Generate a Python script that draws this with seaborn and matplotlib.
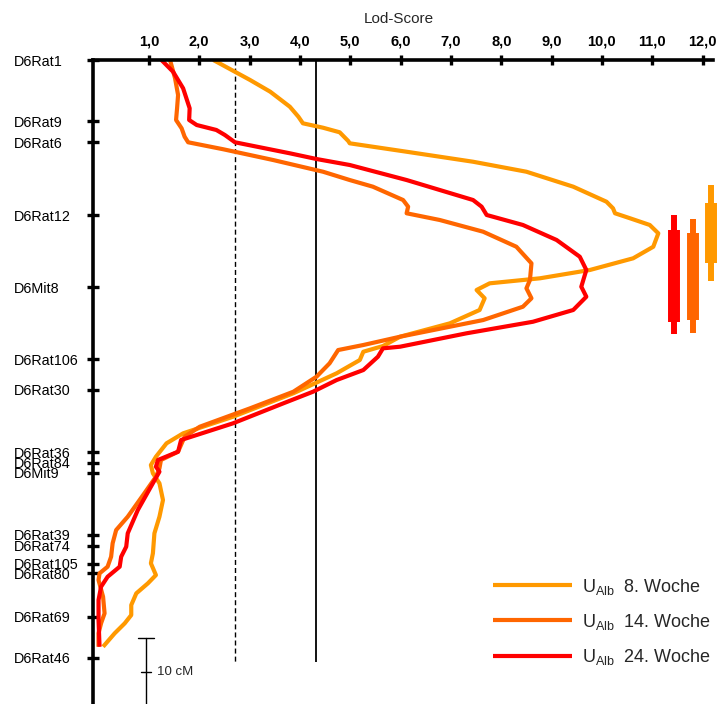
import matplotlib
matplotlib.use("Agg")
import matplotlib.pyplot as plt
import pandas as pd
import seaborn as sns

# Genetic map of chromosome 6: marker names and positions (cM from D6Rat1)
markers = ["D6Rat1", "D6Rat9", "D6Rat6", "D6Rat12", "D6Mit8", "D6Rat106", "D6Rat30",
           "D6Rat36", "D6Rat84", "D6Mit9", "D6Rat39", "D6Rat74", "D6Rat105", "D6Rat80",
           "D6Rat69", "D6Rat46"]
marker_cm = [0.0, 9.0, 12.1, 22.8, 33.4, 44.0, 48.5, 57.7, 59.2, 60.7, 69.8, 71.4,
             74.1, 75.5, 81.9, 87.9]

lod_ticks = [1, 2, 3, 4, 5, 6, 7, 8, 9, 10, 11, 12]
lod_tick_labels = ["1,0", "2,0", "3,0", "4,0", "5,0", "6,0", "7,0", "8,0", "9,0",
                   "10,0", "11,0", "12,0"]

series_labels = [r"U$_{\mathrm{Alb}}$  8. Woche",
                 r"U$_{\mathrm{Alb}}$  14. Woche",
                 r"U$_{\mathrm{Alb}}$  24. Woche"]
series_colors = ["#FF9900", "#FF6600", "#FF0000"]

# LOD profile, week 8
pos_w8 = [0.0, 2.94, 4.66, 6.87, 8.34, 9.31, 9.96, 10.63, 11.91, 12.25, 13.49, 14.96,
          16.43, 18.63, 20.84, 21.81, 22.54, 23.28, 24.26, 25.49, 27.46, 29.16, 30.88,
          32.10, 32.84, 33.82, 35.04, 36.76, 38.72, 40.69, 42.06, 42.90, 44.12, 46.07,
          49.01, 52.46, 54.90, 56.37, 58.34, 59.56, 60.78, 62.25, 64.71, 67.16, 69.60,
          72.54, 74.01, 75.74, 76.96, 78.43, 80.15, 81.62, 82.84, 84.31, 86.28]
lod_w8 = [2.28, 3.01, 3.41, 3.80, 3.97, 4.06, 4.46, 4.79, 4.96, 4.99, 6.12, 7.44,
          8.50, 9.43, 10.09, 10.22, 10.26, 10.56, 10.95, 11.12, 11.02, 10.62, 9.76,
          8.77, 7.77, 7.51, 7.67, 7.57, 6.98, 5.99, 5.65, 5.26, 5.19, 4.73,
          3.87, 2.67, 1.68, 1.35, 1.14, 1.04, 1.08, 1.21, 1.28, 1.21, 1.11,
          1.08, 1.04, 1.14, 0.98, 0.75, 0.65, 0.65, 0.52, 0.32, 0.09]

# LOD profile, week 14
pos_w14 = [0.0, 2.69, 5.15, 7.10, 8.82, 10.04, 11.28, 12.10, 13.13, 14.71, 16.43,
           17.65, 18.63, 20.59, 21.57, 22.54, 23.53, 25.25, 27.46, 29.90, 32.35, 33.57,
           35.04, 36.28, 38.24, 40.69, 41.91, 42.65, 44.60, 46.57, 48.78, 51.22, 53.93,
           55.40, 57.60, 58.82, 60.04, 61.28, 63.72, 67.16, 69.12, 71.07, 73.04, 74.51,
           75.49, 76.47, 78.93, 81.37, 82.84, 84.31, 86.28]
lod_w14 = [1.42, 1.52, 1.58, 1.56, 1.54, 1.65, 1.71, 1.78, 2.48, 3.47, 4.46,
           4.99, 5.45, 6.05, 6.15, 6.12, 6.78, 7.64, 8.30, 8.60, 8.57, 8.50,
           8.60, 8.43, 7.64, 5.99, 5.26, 4.76, 4.59, 4.33, 3.87, 3.01, 2.01,
           1.71, 1.58, 1.24, 1.21, 1.14, 0.91, 0.58, 0.35, 0.28, 0.25, 0.18,
           0.02, 0.00, 0.09, 0.12, 0.05, 0.00, 0.00]

# LOD profile, week 24
pos_w24 = [0.0, 1.72, 4.16, 7.10, 8.82, 9.56, 10.29, 11.03, 12.10, 13.72, 14.56, 15.44,
           17.65, 20.59, 21.57, 22.79, 24.26, 26.47, 28.93, 30.88, 33.34, 34.81, 36.76,
           38.49, 40.19, 42.16, 42.40, 43.63, 45.59, 47.06, 48.78, 50.49, 53.43, 55.88,
           57.60, 58.82, 59.81, 60.54, 62.75, 66.18, 69.60, 71.57, 73.04, 74.51, 75.99,
           77.46, 79.41, 82.35, 86.28]
lod_w24 = [1.25, 1.48, 1.68, 1.81, 1.80, 1.95, 2.34, 2.51, 2.71, 3.80, 4.33, 4.99,
           6.12, 7.44, 7.61, 7.71, 8.43, 9.10, 9.56, 9.69, 9.59, 9.69, 9.43,
           8.63, 7.31, 5.99, 5.65, 5.55, 5.26, 4.73, 4.26, 3.67, 2.67, 1.64,
           1.58, 1.18, 1.14, 1.21, 1.04, 0.78, 0.58, 0.55, 0.45, 0.42, 0.18,
           0.05, 0.00, 0.00, 0.02]

# Suggestive (dashed) and significant (solid) LOD thresholds
threshold_suggestive = 2.71
threshold_significant = 4.31
threshold_end_cm = 88.5

# Support intervals of the QTL (cM): outer and inner range per week (8, 14, 24)
ci_outer = [(18.4, 32.5), (23.4, 40.2), (22.8, 40.3)]
ci_inner = [(21.1, 29.8), (25.4, 38.3), (25.0, 38.5)]
ci_column_x = [12.17, 11.81, 11.43]

# ---------------------------------------------------------------------------
sns.set_style("white")
plt.rcParams["font.family"] = ["Liberation Sans", "DejaVu Sans"]
plt.rcParams["mathtext.fontset"] = "custom"
plt.rcParams["mathtext.rm"] = "Liberation Sans"
plt.rcParams["mathtext.it"] = "Liberation Sans:italic"
plt.rcParams["mathtext.bf"] = "Liberation Sans:bold"

W, H = 717, 704
PX_PER_LOD = 50.34
x_min, x_max = -0.11, 12.2
y_top, y_bottom = 0.0, 94.7

fig = plt.figure(figsize=(W / 100, H / 100), dpi=100)
ax = fig.add_axes([93 / W, 0.0, (x_max - x_min) * PX_PER_LOD / W, 1 - 60 / H])

frames = []
for lab, pos, lod in zip(series_labels, [pos_w8, pos_w14, pos_w24],
                         [lod_w8, lod_w14, lod_w24]):
    frames.append(pd.DataFrame({"cM": pos, "LOD": lod, "Gruppe": lab}))
df = pd.concat(frames, ignore_index=True)

sns.lineplot(data=df, x="LOD", y="cM", hue="Gruppe", hue_order=series_labels,
             palette=dict(zip(series_labels, series_colors)), sort=False,
             estimator=None, orient="y", linewidth=3.0, ax=ax,
             solid_joinstyle="round", solid_capstyle="butt")

ax.set_xlim(x_min, x_max)
ax.set_ylim(y_bottom, y_top)

# Threshold lines
ax.vlines(threshold_suggestive, 0, threshold_end_cm, colors="black", linewidth=1.0,
          linestyles=(0, (3.6, 2.2)), zorder=1)
ax.vlines(threshold_significant, 0, threshold_end_cm, colors="black", linewidth=1.3,
          zorder=1)

# Support interval bars
for x, (o0, o1), (i0, i1), col in zip(ci_column_x, ci_outer, ci_inner, series_colors):
    ax.plot([x, x], [o0, o1], color=col, lw=4.3, solid_capstyle="butt", clip_on=False)
    ax.plot([x, x], [i0, i1], color=col, lw=8.6, solid_capstyle="butt", clip_on=False)

# 10 cM scale bar
sb_x, sb_top = 0.94, 85.0
ax.plot([sb_x, sb_x], [sb_top, sb_top + 10], color="black", lw=1.0, clip_on=False)
ax.plot([sb_x - 0.16, sb_x + 0.16], [sb_top, sb_top], color="black", lw=1.0,
        clip_on=False)
ax.plot([sb_x - 0.1, sb_x + 0.1], [sb_top + 5, sb_top + 5], color="black", lw=1.0,
        clip_on=False)
ax.text(sb_x + 0.23, sb_top + 5, "10 cM", fontsize=9.5, va="center", ha="left")

# Axes styling: LOD axis on top, chromosome as left axis
for side in ("right", "bottom"):
    ax.spines[side].set_visible(False)
for side in ("top", "left"):
    ax.spines[side].set_linewidth(2.6)
    ax.spines[side].set_color("black")
ax.grid(False)

ax.xaxis.tick_top()
ax.xaxis.set_label_position("top")
ax.set_xticks(lod_ticks, labels=lod_tick_labels, fontsize=10.5, fontweight="bold")
ax.tick_params(axis="x", direction="inout", length=7, width=2.4, pad=5.0,
               colors="black", top=True, bottom=False)
ax.set_xlabel("Lod-Score", fontsize=11)
ax.xaxis.set_label_coords((399 - 93) / ((x_max - x_min) * PX_PER_LOD), 1 + 41 / 644)
ax.xaxis.label.set_va("center")

ax.set_yticks(marker_cm, labels=markers, fontsize=10.4)
ax.tick_params(axis="y", direction="inout", length=8, width=2.4, pad=53.2,
               colors="black", left=True)
for t in ax.get_yticklabels():
    t.set_ha("left")
ax.set_ylabel("")

sns.move_legend(ax, "center left", bbox_to_anchor=(493.3 / W, 1 - 621.7 / H),
                bbox_transform=fig.transFigure, frameon=False, title=None,
                borderpad=0, borderaxespad=0, handlelength=4.37,
                handletextpad=0.54, labelspacing=0.84, fontsize=13)
for h in ax.get_legend().legend_handles:
    h.set_linewidth(3.0)

fig.savefig("out.png", dpi=100)
